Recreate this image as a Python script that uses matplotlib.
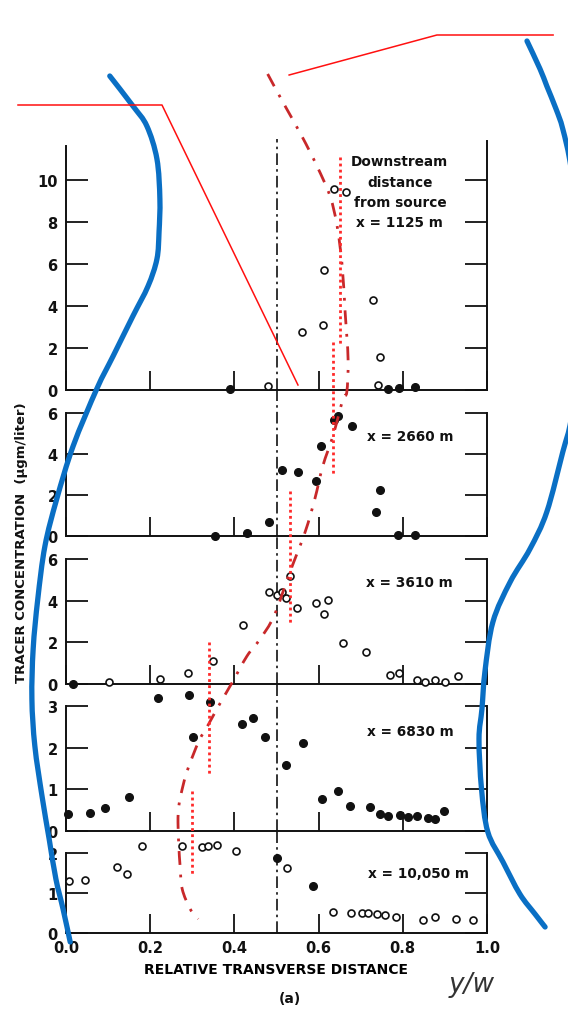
import matplotlib
matplotlib.use("Agg")
import matplotlib.pyplot as plt
from matplotlib.path import Path
from matplotlib.patches import PathPatch

plt.rcParams['font.family'] = ['DejaVu Sans']
plt.rcParams['font.weight'] = 'bold'

# ---- measured data (relative transverse distance y/w, concentration ug/l) ----
p1_open_x = [0.48, 0.56, 0.61, 0.613, 0.637, 0.665, 0.73, 0.747, 0.742]
p1_open_y = [0.18, 2.75, 3.1, 5.73, 9.57, 9.41, 4.3, 1.57, 0.24]
p1_fill_x = [0.39, 0.766, 0.79, 0.83]
p1_fill_y = [0.05, 0.05, 0.08, 0.13]

p2_fill_x = [0.354, 0.431, 0.481, 0.512, 0.552, 0.593, 0.606, 0.637, 0.647, 0.679,
             0.746, 0.736, 0.789, 0.83]
p2_fill_y = [0.0, 0.15, 0.7, 3.24, 3.14, 2.7, 4.37, 5.67, 5.84, 5.38,
             2.26, 1.16, 0.06, 0.06]

p3_open_x = [0.102, 0.223, 0.289, 0.35, 0.421, 0.481, 0.5, 0.514, 0.523, 0.532,
             0.548, 0.593, 0.623, 0.613, 0.657, 0.712, 0.77, 0.79, 0.833, 0.853,
             0.877, 0.9, 0.93]
p3_open_y = [0.11, 0.24, 0.53, 1.09, 2.84, 4.4, 4.28, 4.4, 4.12, 5.18,
             3.64, 3.89, 4.02, 3.37, 1.97, 1.52, 0.43, 0.53, 0.21, 0.08,
             0.21, 0.08, 0.37]
p3_fill_x = [0.016]
p3_fill_y = [0.0]

p4_fill_x = [0.219, 0.292, 0.342, 0.301, 0.417, 0.445, 0.473, 0.522, 0.564,
             0.004, 0.057, 0.093, 0.15, 0.609, 0.647, 0.675, 0.722, 0.746, 0.766,
             0.793, 0.813, 0.833, 0.861, 0.877, 0.898]
p4_fill_y = [3.18, 3.26, 3.1, 2.26, 2.57, 2.7, 2.26, 1.58, 2.11,
             0.41, 0.43, 0.55, 0.81, 0.77, 0.95, 0.59, 0.57, 0.41, 0.37,
             0.38, 0.33, 0.37, 0.3, 0.29, 0.49]

p5_open_x = [0.006, 0.045, 0.122, 0.146, 0.18, 0.275, 0.322, 0.338, 0.359, 0.404,
             0.524, 0.634, 0.676, 0.702, 0.718, 0.738, 0.758, 0.785,
             0.849, 0.877, 0.926, 0.967]
p5_open_y = [1.31, 1.33, 1.66, 1.47, 2.18, 2.18, 2.14, 2.18, 2.21, 2.04,
             1.62, 0.52, 0.5, 0.5, 0.49, 0.47, 0.45, 0.39,
             0.33, 0.39, 0.35, 0.33]
p5_fill_x = [0.5, 0.586]
p5_fill_y = [1.87, 1.17]

panel_labels = ["Downstream\ndistance\nfrom source\nx = 1125 m", "x = 2660 m",
                "x = 3610 m", "x = 6830 m", "x = 10,050 m"]
panel_yticks = [[0, 2, 4, 6, 8, 10], [0, 2, 4, 6], [0, 2, 4, 6], [0, 1, 2, 3], [0, 1, 2]]
xticks = [0.0, 0.2, 0.4, 0.6, 0.8, 1.0]

# ---- hand annotations (x in y/w units, y in image pixels from top) ----
centroid_x = [0.479, 0.515, 0.560, 0.596, 0.627, 0.644, 0.656, 0.663, 0.670, 0.667,
              0.658, 0.634, 0.610, 0.591, 0.568, 0.532, 0.494, 0.461, 0.430, 0.394,
              0.361, 0.335, 0.318, 0.301, 0.287, 0.276, 0.268, 0.266, 0.268, 0.271,
              0.276, 0.295, 0.314]
centroid_y = [75, 103, 137, 167, 197, 227, 267, 313, 360, 393,
              400, 437, 467, 500, 533, 573, 617, 640, 657, 684,
              708, 728, 740, 757, 773, 790, 807, 823, 847, 867,
              890, 910, 920]
dotted_x = [0.651, 0.634, 0.532, 0.340, 0.299]
dotted_y0 = [158, 343, 492, 643, 792]
dotted_y1 = [347, 477, 625, 777, 877]

blue_left_x = [0.104, 0.159, 0.192, 0.216, 0.223, 0.221, 0.216, 0.195, 0.159, 0.112,
               0.073, 0.017, -0.022, -0.050, -0.067, -0.078, -0.081, -0.074, -0.057,
               -0.040, -0.024, -0.007, 0.010]
blue_left_y = [77, 107, 127, 160, 200, 233, 260, 287, 317, 357,
               390, 447, 500, 547, 600, 650, 700, 747, 797,
               840, 880, 910, 943]
blue_right_x = [1.095, 1.126, 1.142, 1.164, 1.180, 1.200, 1.222, 1.222, 1.200, 1.180,
                1.142, 1.102, 1.055, 1.014, 0.995, 0.988, 0.981, 0.987, 1.002,
                1.038, 1.078, 1.114, 1.138]
blue_right_y = [42, 70, 87, 110, 130, 170, 250, 350, 420, 453,
                513, 550, 583, 623, 673, 710, 740, 790, 833,
                863, 895, 915, 928]
red_a_x = [-0.114, 0.228, 0.551]
red_a_y = [106, 106, 386]
red_b_x = [0.530, 0.881, 1.157]
red_b_y = [76, 36, 36]

# ---- layout (pixels) ----
W, H = 568, 1012
left_px, right_px = 66, 487
panel_top = [140, 391, 537, 685, 832]
panel_bot = [391, 537, 685, 832, 934]
panel_scale = [21.0, 20.5, 20.8, 41.7, 40.0]
label_pos = [(0.793, 9.45), (0.715, 4.9), (0.713, 4.9), (0.715, 2.4), (0.718, 1.5)]


def smooth_path(xs, ys):
    # Catmull-Rom through the traced points, drawn as cubic Bezier segments
    pts = list(zip(xs, ys))
    verts = [pts[0]]
    codes = [Path.MOVETO]
    for k in range(len(pts) - 1):
        p0 = pts[k - 1] if k > 0 else pts[k]
        p1, p2 = pts[k], pts[k + 1]
        p3 = pts[k + 2] if k + 2 < len(pts) else pts[k + 1]
        c1 = (p1[0] + (p2[0] - p0[0]) / 6, p1[1] + (p2[1] - p0[1]) / 6)
        c2 = (p2[0] - (p3[0] - p1[0]) / 6, p2[1] - (p3[1] - p1[1]) / 6)
        verts += [c1, c2, p2]
        codes += [Path.CURVE4] * 3
    return Path(verts, codes)


fig = plt.figure(figsize=(W / 100, H / 100), dpi=100)

series = [
    (p1_open_x, p1_open_y, p1_fill_x, p1_fill_y),
    (None, None, p2_fill_x, p2_fill_y),
    (p3_open_x, p3_open_y, p3_fill_x, p3_fill_y),
    (None, None, p4_fill_x, p4_fill_y),
    (p5_open_x, p5_open_y, p5_fill_x, p5_fill_y),
]

for i in range(5):
    top, bot = panel_top[i], panel_bot[i]
    ax = fig.add_axes([left_px / W, 1 - bot / H, (right_px - left_px) / W, (bot - top) / H])
    ax.patch.set_alpha(0)
    ax.set_xlim(0, 1)
    ax.set_ylim(0, (bot - top) / panel_scale[i])
    ymax = panel_yticks[i][-1]
    if i == 0:
        ymax = 11.6
    ax.spines['top'].set_visible(False)
    for s in ['left', 'right', 'bottom']:
        ax.spines[s].set_linewidth(1.4)
        ax.spines[s].set_color('#111111')
    ax.spines['left'].set_bounds(0, ymax)
    ax.spines['right'].set_bounds(0, ymax if i else 11.85)

    ax.axvline(0.5, color='#111111', lw=1.2, ls=(0, (7, 2.5, 1.5, 2.5)), zorder=1)

    ox, oy, fx, fy = series[i]
    if ox is not None:
        ax.plot(ox, oy, 'o', ms=5, mfc='white', mec='#111111', mew=1.2, ls='none',
                clip_on=False, zorder=3)
    ax.plot(fx, fy, 'o', ms=5.5, color='#111111', ls='none', clip_on=False, zorder=3)

    ax.set_yticks(panel_yticks[i])
    ax.set_xticks(xticks)
    ax.tick_params(axis='y', direction='in', length=16, width=1.3, right=True,
                   labelsize=10.5, pad=6, colors='#111111')
    ax.tick_params(axis='x', direction='in', length=14, width=1.3,
                   labelsize=10.5, pad=5, colors='#111111')
    if i < 4:
        ax.set_xticklabels([])
    else:
        ax.set_xticklabels(['0.0', '0.2', '0.4', '0.6', '0.8', '1.0'])
        ax.set_xlabel('RELATIVE TRANSVERSE DISTANCE', fontsize=10, fontweight='bold',
                      labelpad=5)

    lx, ly = label_pos[i]
    ax.text(lx, ly, panel_labels[i], fontsize=9.8, fontweight='bold',
            ha='center' if i == 0 else 'left', va='center', multialignment='center',
            linespacing=1.55, color='#111111')

fig.text(22 / W, 1 - 543 / H, 'TRACER CONCENTRATION  (\u03bcgm/liter)', rotation=90,
         ha='center', va='center', fontsize=9.5, fontweight='bold', color='#111111')
fig.text(290 / W, 1 - 999 / H, '(a)', ha='center', va='center', fontsize=10,
         fontweight='bold', color='#111111')
fig.text(472 / W, 1 - 985 / H, 'y/w', ha='center', va='center', fontsize=19,
         fontstyle='italic', fontweight='light', color='#333333')

# overlay for hand annotations: x in y/w, y in image pixels
ov = fig.add_axes([left_px / W, 0, (right_px - left_px) / W, 1], zorder=10)
ov.set_xlim(0, 1)
ov.set_ylim(H, 0)
ov.axis('off')
ov.patch.set_alpha(0)

for bx, by in [(blue_left_x, blue_left_y), (blue_right_x, blue_right_y)]:
    ov.add_patch(PathPatch(smooth_path(bx, by), facecolor='none', edgecolor='#0a6fc4',
                           lw=3.8, capstyle='round', clip_on=False))
ov.plot(red_a_x, red_a_y, color='#ff1010', lw=1.1, clip_on=False)
ov.plot(red_b_x, red_b_y, color='#ff1010', lw=1.1, clip_on=False)
ov.add_patch(PathPatch(smooth_path(centroid_x, centroid_y), facecolor='none',
                       edgecolor='#c8282a', lw=2.0, ls=(0, (5, 3.5, 1, 3.5)),
                       clip_on=False))
for x, y0, y1 in zip(dotted_x, dotted_y0, dotted_y1):
    ov.plot([x, x], [y0, y1], color='#ff2a2a', lw=2.0, ls=(0, (1, 1.2)), clip_on=False)

fig.savefig('out.png', dpi=100)
